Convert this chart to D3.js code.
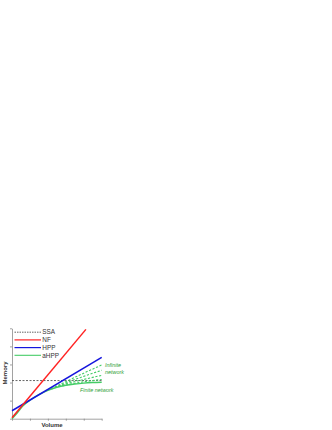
<!DOCTYPE html>
<html>
<head>
<meta charset="utf-8">
<script src="https://cdn.jsdelivr.net/npm/d3@7"></script>
<style>
  body { margin: 0; background: #fff; }
  svg { display: block; font-family: "Liberation Sans", Arial, sans-serif; }
</style>
</head>
<body>
<div id="chart"></div>
<script>
// values (arbitrary units, axes 0..5)
const xTicks = [0, 1, 2, 3, 4, 5];
const yTicks = [0, 1, 2, 3, 4, 5];

const ssaLevel = 2.11;
const nfPoints = [[0, 0.05], [4.12, 4.94]];
const hppPoints = [[0, 0.44], [5, 3.39]];
const ahppPoints = [[0, 0], [0.3, 0.33], [0.6, 0.7], [1, 1.02], [1.5, 1.33], [2, 1.57],
  [2.5, 1.74], [3, 1.85], [3.5, 1.92], [4, 1.97], [4.5, 2.0], [5, 2.02]];
const infiniteBranches = [
  [[2.0, 1.57], [3, 2.05], [4, 2.52], [5, 2.97]],
  [[2.2, 1.64], [3, 1.98], [4, 2.34], [5, 2.68]],
  [[2.4, 1.71], [3, 1.92], [4, 2.17], [5, 2.40]],
  [[2.6, 1.77], [3.5, 1.96], [5, 2.17]]
];

const legendItems = [
  { label: 'SSA', color: '#555', dash: '1.5,1', width: 0.9 },
  { label: 'NF', color: '#f22', dash: null, width: 1.2 },
  { label: 'HPP', color: '#1515dd', dash: null, width: 1.2 },
  { label: 'aHPP', color: '#44cc66', dash: null, width: 1.1 }
];

const W = 332, H = 430;
const svg = d3.select('#chart').append('svg')
  .attr('width', W)
  .attr('height', H);

const x = d3.scaleLinear().domain([0, 5]).range([12, 101.7]);
const y = d3.scaleLinear().domain([0, 5]).range([418.7, 328.3]);

// axes
const axisColor = '#8a8a8a';
const gx = svg.append('g')
  .attr('transform', `translate(0,${y(0)})`)
  .call(d3.axisBottom(x).tickValues(xTicks).tickSize(2).tickSizeOuter(0).tickFormat(''));
const gy = svg.append('g')
  .attr('transform', `translate(${x(0)},0)`)
  .call(d3.axisLeft(y).tickValues(yTicks).tickSize(2).tickSizeOuter(0).tickFormat(''));
[gx, gy].forEach(g => {
  g.selectAll('path, line').attr('stroke', axisColor).attr('stroke-width', 0.8);
});

const line = d3.line().x(d => x(d[0])).y(d => y(d[1]));
const curve = d3.line().x(d => x(d[0])).y(d => y(d[1])).curve(d3.curveMonotoneX);

// SSA
svg.append('line')
  .attr('x1', x(0)).attr('x2', x(5))
  .attr('y1', y(ssaLevel)).attr('y2', y(ssaLevel))
  .attr('stroke', legendItems[0].color)
  .attr('stroke-width', 0.9)
  .attr('stroke-dasharray', '2,1.5');

// aHPP infinite-network branches
infiniteBranches.forEach(b => {
  svg.append('path')
    .attr('d', curve(b))
    .attr('fill', 'none')
    .attr('stroke', '#44cc66')
    .attr('stroke-width', 1.1)
    .attr('stroke-dasharray', '2.2,1.6');
});

// aHPP finite network
svg.append('path')
  .attr('d', curve(ahppPoints))
  .attr('fill', 'none')
  .attr('stroke', legendItems[3].color)
  .attr('stroke-width', 1.4);

// HPP
svg.append('path')
  .attr('d', line(hppPoints))
  .attr('fill', 'none')
  .attr('stroke', legendItems[2].color)
  .attr('stroke-width', 1.5);

// NF
svg.append('path')
  .attr('d', line(nfPoints))
  .attr('fill', 'none')
  .attr('stroke', legendItems[1].color)
  .attr('stroke-width', 1.5);

// legend
const lg = svg.append('g');
legendItems.forEach((it, i) => {
  const ly = 332.2 + i * 7.7;
  lg.append('line')
    .attr('x1', 14.5).attr('x2', 41)
    .attr('y1', ly).attr('y2', ly)
    .attr('stroke', it.color)
    .attr('stroke-width', it.width)
    .attr('stroke-dasharray', it.dash);
  lg.append('text')
    .attr('x', 42.3).attr('y', ly + 2.2)
    .attr('font-size', 6.4)
    .attr('fill', '#333')
    .text(it.label);
});

// annotations
const green = '#2e9e36';
svg.append('text')
  .attr('x', 105).attr('y', 367)
  .attr('font-size', 5.4).attr('font-style', 'italic').attr('fill', green)
  .text('Infinite');
svg.append('text')
  .attr('x', 105).attr('y', 374)
  .attr('font-size', 5.4).attr('font-style', 'italic').attr('fill', green)
  .text('network');
svg.append('text')
  .attr('x', 80).attr('y', 392)
  .attr('font-size', 5.4).attr('font-style', 'italic').attr('fill', green)
  .text('Finite network');

// axis titles
svg.append('text')
  .attr('x', 52).attr('y', 427)
  .attr('text-anchor', 'middle')
  .attr('font-size', 6).attr('font-weight', 'bold').attr('fill', '#333')
  .text('Volume');
svg.append('text')
  .attr('transform', `translate(7,${373}) rotate(-90)`)
  .attr('text-anchor', 'middle')
  .attr('font-size', 6).attr('font-weight', 'bold').attr('fill', '#333')
  .text('Memory');
</script>
</body>
</html>
